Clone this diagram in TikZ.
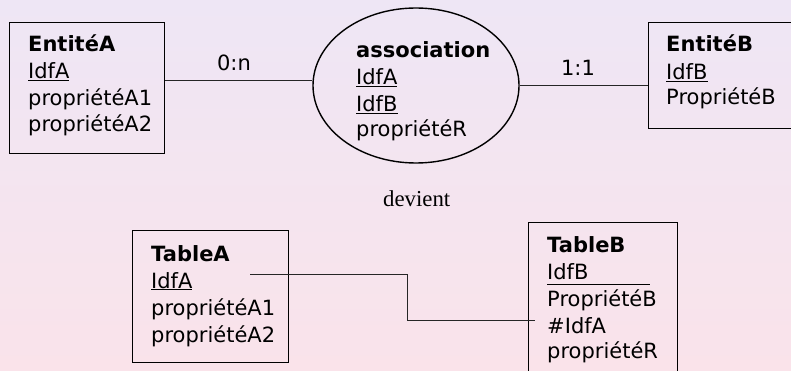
\documentclass[tikz,border=0pt]{standalone}
\usepackage{fontspec}
\newfontfamily\dv{DejaVu Sans}
\newfontfamily\lser{Liberation Serif}
\usetikzlibrary{shapes.geometric}
\definecolor{bgtop}{RGB}{238,230,245}
\definecolor{bgbot}{RGB}{250,227,234}
\begin{document}
\begin{tikzpicture}[x=1pt,y=-1pt,
  box/.style={draw=black, line width=1.4pt, fill=none, inner sep=0pt, anchor=north west},
  txt/.style={anchor=base west, inner sep=0pt, font=\dv\fontsize{21}{26}\selectfont},
  ttl/.style={txt, font=\dv\bfseries\fontsize{21}{26}\selectfont},
  lbl/.style={anchor=base, inner sep=0pt, font=\dv\fontsize{21}{26}\selectfont},
  conn/.style={draw=black!85, line width=0.9pt}]
\useasboundingbox (0,0) rectangle (791,371);
\shade[top color=bgtop, bottom color=bgbot] (0,0) rectangle (791,371);
\clip (0,0) rectangle (791,371);

% Entite A
\node[box, minimum width=155, minimum height=131] (entA) at (9,22) {};
\node[ttl] (entAt) at (28,52) {EntitéA};
\node[txt] (entA1) at (28,79) {\underline{IdfA}};
\node[txt] (entA2) at (28,106) {propriétéA1};
\node[txt] (entA3) at (28,132) {propriétéA2};

% association
\node[draw=black, line width=1.4pt, ellipse, minimum width=206, minimum height=155, inner sep=0pt] (assoc) at (416,85.5) {};
\node[ttl] (asst) at (356,58) {association};
\node[txt] (ass1) at (356,85) {\underline{IdfA}};
\node[txt] (ass2) at (356,112) {\underline{IdfB}};
\node[txt] (ass3) at (356,137) {propriétéR};

% Entite B
\node[box, minimum width=160, minimum height=106] (entB) at (648,22) {};
\node[ttl] (entBt) at (666,52) {EntitéB};
\node[txt] (entB1) at (666,80) {\underline{IdfB}};
\node[txt] (entB2) at (666,105) {PropriétéB};

% connectors top
\path (entA.north east) ++(0,58) coordinate (a0);
\draw[conn] (a0) -- (a0 -| assoc.west);
\node[lbl] (card0n) at (234,71) {0:n};
\draw[conn] (assoc.east) -- (assoc.east -| entB.west);
\node[lbl] (card11) at (578,76) {1:1};

% devient
\node[anchor=base west, inner sep=0pt, font=\lser\fontsize{22.8}{26}\selectfont] (dev) at (383,207) {devient};

% Table A
\node[box, minimum width=156, minimum height=132] (tabA) at (132,230) {};
\node[ttl] (tabAt) at (151,261) {TableA};
\node[txt] (tabA1) at (151,288) {\underline{IdfA}};
\node[txt] (tabA2) at (151,315) {propriétéA1};
\node[txt] (tabA3) at (151,342) {propriétéA2};

% Table B
\node[box, minimum width=149, minimum height=170] (tabB) at (528,222) {};
\node[ttl] (tabBt) at (547,252) {TableB};
\node[txt] (tabB1) at (547,279) {IdfB};
\draw[line width=0.9pt] ([yshift=-5pt]tabB1.base west) -- ++(103,0);
\node[txt] (tabB2) at (547,306) {PropriétéB};
\node[txt] (tabB3) at (547,333) {\#IdfA};
\node[txt] (tabB4) at (547,358) {propriétéR};

% foreign key connector
\coordinate (fks) at (250,274);
\draw[conn] (fks) -- ++(157,0) |- ([xshift=-12pt,yshift=13pt]tabB3.base west);
\end{tikzpicture}
\end{document}
